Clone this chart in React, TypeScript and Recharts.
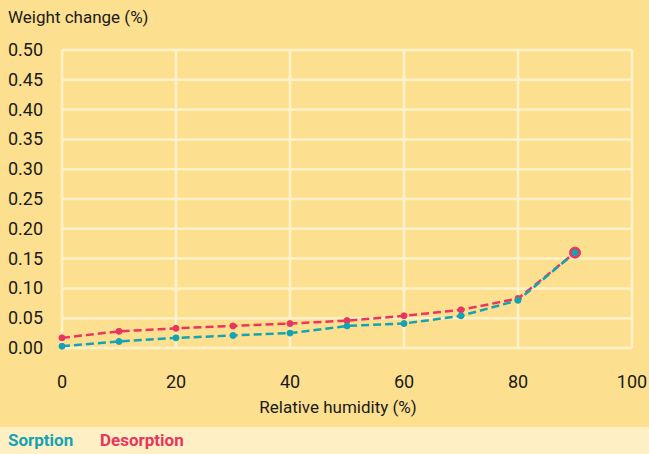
import { LineChart, Line, XAxis, YAxis, CartesianGrid } from "recharts";

const humidity = [0, 10, 20, 30, 40, 50, 60, 70, 80, 90];
const sorption = [0.003, 0.011, 0.017, 0.021, 0.025, 0.037, 0.041, 0.054, 0.08, 0.16];
const desorption = [0.017, 0.028, 0.033, 0.037, 0.041, 0.046, 0.054, 0.064, 0.083, 0.16];
const xTicks = [0, 20, 40, 60, 80, 100];
const yTicks = [0, 0.05, 0.1, 0.15, 0.2, 0.25, 0.3, 0.35, 0.4, 0.45, 0.5];

const data = humidity.map((h, i) => ({ h, sorption: sorption[i], desorption: desorption[i] }));

const FONT = "'Roboto', sans-serif";
const BG = "#FDE08F";
const GRID = "#FFF2CB";
const TEAL = "#14A3B4";
const RED = "#E8365D";

const YTick = (props: any) => {
  const { y, payload } = props;
  return (
    <text x={8} y={y} dy={6} textAnchor="start" fontSize={18} fill="#1a1a1a" fontFamily={FONT}>
      {Number(payload.value).toFixed(2)}
    </text>
  );
};

const XTick = (props: any) => {
  const { x, payload } = props;
  return (
    <text x={x} y={388} textAnchor="middle" fontSize={18} fill="#1a1a1a" fontFamily={FONT}>
      {payload.value}
    </text>
  );
};

const dot = (color: string, big: boolean) => (props: any) => {
  const { cx, cy, index } = props;
  const last = index === data.length - 1;
  return (
    <circle
      key={index}
      cx={cx}
      cy={cy}
      r={last && big ? 5.5 : 3}
      fill={color}
      stroke={color}
      strokeWidth={1}
    />
  );
};

export default function App() {
  return (
    <div style={{ position: "absolute", left: 0, top: 0, width: 649, height: 454, background: BG, fontFamily: FONT }}>
      <div style={{ position: "absolute", left: 8, top: 7, fontSize: 17, color: "#1a1a1a" }}>Weight change (%)</div>
      <LineChart width={649} height={427} data={data} margin={{ top: 50, right: 17, left: 0, bottom: 49 }}>
        <CartesianGrid stroke={GRID} strokeWidth={2.5} />
        <XAxis
          dataKey="h"
          type="number"
          domain={[0, 100]}
          ticks={xTicks}
          height={30}
          axisLine={false}
          tickLine={false}
          tick={<XTick />}
          interval={0}
        />
        <YAxis
          type="number"
          domain={[0, 0.5]}
          ticks={yTicks}
          width={62}
          axisLine={false}
          tickLine={false}
          tick={<YTick />}
          interval={0}
        />
        <Line
          dataKey="desorption"
          stroke={RED}
          strokeWidth={2.5}
          strokeDasharray="8 4"
          dot={dot(RED, true)}
          isAnimationActive={false}
        />
        <Line
          dataKey="sorption"
          stroke={TEAL}
          strokeWidth={2.5}
          strokeDasharray="8 4"
          dot={dot(TEAL, false)}
          isAnimationActive={false}
        />
      </LineChart>
      <div style={{ position: "absolute", left: 0, width: 649, top: 397, textAlign: "center", paddingLeft: 27, boxSizing: "border-box", fontSize: 17, color: "#1a1a1a" }}>
        Relative humidity (%)
      </div>
      <div style={{ position: "absolute", left: 0, top: 427, width: 649, height: 27, background: "#FEF0C4", fontSize: 17, fontWeight: "bold" }}>
        <span style={{ position: "absolute", left: 8, top: 3, color: TEAL }}>Sorption</span>
        <span style={{ position: "absolute", left: 100, top: 3, color: RED }}>Desorption</span>
      </div>
    </div>
  );
}
